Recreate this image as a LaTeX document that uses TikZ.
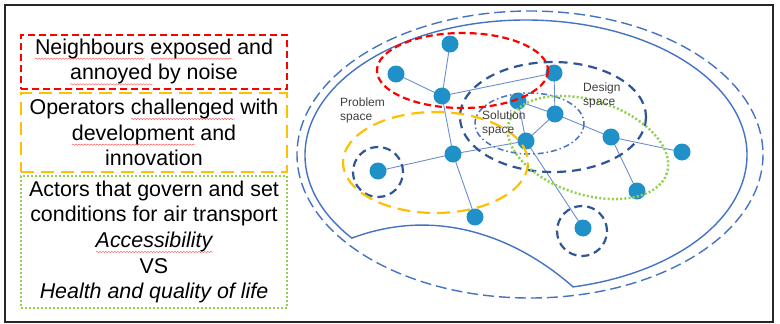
\documentclass[tikz,border=0pt]{standalone}
\usepackage{fontspec}
\setmainfont{Liberation Sans}
\usetikzlibrary{decorations.pathmorphing}
\definecolor{nodeblue}{RGB}{32,144,200}
\definecolor{darkblue}{HTML}{2F5597}
\definecolor{midblue}{HTML}{4472C4}
\definecolor{edgeblue}{HTML}{6A8FCF}
\definecolor{boxred}{HTML}{FF0000}
\definecolor{boxorange}{HTML}{FFC000}
\definecolor{boxgreen}{HTML}{92D050}
\definecolor{labelgray}{HTML}{404040}
\newsavebox\splbox
\newcommand\spl[1]{\sbox\splbox{#1}\leavevmode\rlap{\tikz[baseline=0pt,x=1pt,y=1pt]{\draw[red!65,line width=0.45pt,decorate,decoration={snake,amplitude=0.7pt,segment length=3pt}] (0,-4.5) -- (\the\wd\splbox,-4.5);}}\usebox\splbox}
\pgfdeclarelayer{back}
\pgfdeclarelayer{linklayer}
\pgfsetlayers{back,linklayer,main}
\begin{document}
\begin{tikzpicture}[x=1pt,y=-1pt,
  dot/.style={circle,fill=nodeblue,inner sep=0pt,minimum size=17pt},
  link/.style={draw=edgeblue,line width=0.9pt},
  ring/.style={circle,draw=darkblue,line width=2.2pt,dash pattern=on 8pt off 5pt,inner sep=0pt,minimum size=50pt},
  textbox/.style={inner sep=0pt,minimum width=266pt,align=center,font=\fontsize{21.4}{25.7}\selectfont},
  spacelabel/.style={anchor=west,align=left,text=labelgray,inner sep=0pt,font=\fontsize{12}{14}\selectfont}]
\useasboundingbox (0,0) rectangle (780,324);
\begin{pgfonlayer}{back}
\fill[white] (0,0) rectangle (780,324);
\end{pgfonlayer}
\draw[line width=1.8pt,black!85] (5,5) rectangle (773,322);

% left boxes
\node[textbox,draw=boxred,line width=2pt,dash pattern=on 7pt off 4pt,minimum height=54pt] (b1) at (154,62)
  {\spl{Neighbours} \spl{exposed} and\\\spl{annoyed} by noise};
\node[textbox,draw=boxorange,line width=2pt,dash pattern=on 13pt off 7pt,minimum height=79pt] (b2) at (154,132.5)
  {Operators \spl{challenged} with\\\spl{development} and\\innovation};
\node[textbox,draw=boxgreen,line width=2pt,dash pattern=on 2pt off 2pt,minimum height=132pt] (b3) at (154,242)
  {Actors that govern and set\\conditions for air transport\\\spl{\itshape Accessibility}\\VS\\\textit{Health and quality of life}};

% outer shapes
\draw[midblue,line width=1.4pt,dash pattern=on 11pt off 5pt] (530,154.5) ellipse [x radius=233,y radius=143.5];
\coordinate (oc) at (526,155);
\draw[midblue,line width=1.4pt,line join=miter]
  ([shift={(142:221 and 135)}]oc) arc [start angle=142,end angle=437.7,x radius=221,y radius=135]
  .. controls (520,240) and (440,205) .. cycle;

% network
\node[dot] (n1) at (450,44) {};
\node[dot] (n2) at (396,74) {};
\node[dot] (n3) at (442,96) {};
\node[dot] (n4) at (453,154) {};
\node[dot] (n5) at (378,171) {};
\node[dot] (n6) at (554,73) {};
\node[dot] (n7) at (518,101) {};
\node[dot] (n8) at (555,114) {};
\node[dot] (n9) at (526,141) {};
\node[dot] (n10) at (611,137) {};
\node[dot] (n11) at (682,152) {};
\node[dot] (n12) at (637,191) {};
\node[dot] (n13) at (475,217) {};
\node[dot] (n14) at (583,228) {};
\begin{pgfonlayer}{linklayer}
\foreach \a/\b in {n3/n1,n3/n2,n3/n6,n3/n4,n4/n5,n4/n9,n4/n13,n6/n8,n7/n8,n7/n9,n8/n9,n8/n10,n10/n11,n10/n12,n9/n14}
  \path[link] (\a.center) -- (\b.center);
\end{pgfonlayer}

% rings around single nodes
\node[ring] (r5) at (378,172) {};
\node[ring] (r14) at (582,231) {};

% spaces
\draw[darkblue,line width=2.2pt,dash pattern=on 9pt off 6pt] (553,117) ellipse [x radius=93,y radius=55];
\draw[midblue,line width=1.5pt,dash pattern=on 6pt off 3pt on 1.5pt off 3pt] (529.5,123.5) ellipse [x radius=54.5,y radius=30.5];
\draw[boxred,line width=2.2pt,dash pattern=on 7pt off 4pt] (462.5,70.5) ellipse [x radius=85.5,y radius=37.5];
\draw[boxorange,line width=2.2pt,dash pattern=on 13pt off 7pt] (435.5,162.5) ellipse [x radius=92.5,y radius=50.5];
\draw[boxgreen,line width=2.5pt,dash pattern=on 2pt off 2.2pt,rotate around={-18:(588,147.5)}] (588,147.5) ellipse [x radius=83,y radius=47];

% labels
\node[spacelabel] (lp) at (340,110.5) {Problem\\space};
\node[spacelabel] (ls) at (482,123) {Solution\\space};
\node[spacelabel] (ld) at (583,95) {Design\\space};
\end{tikzpicture}
\end{document}
